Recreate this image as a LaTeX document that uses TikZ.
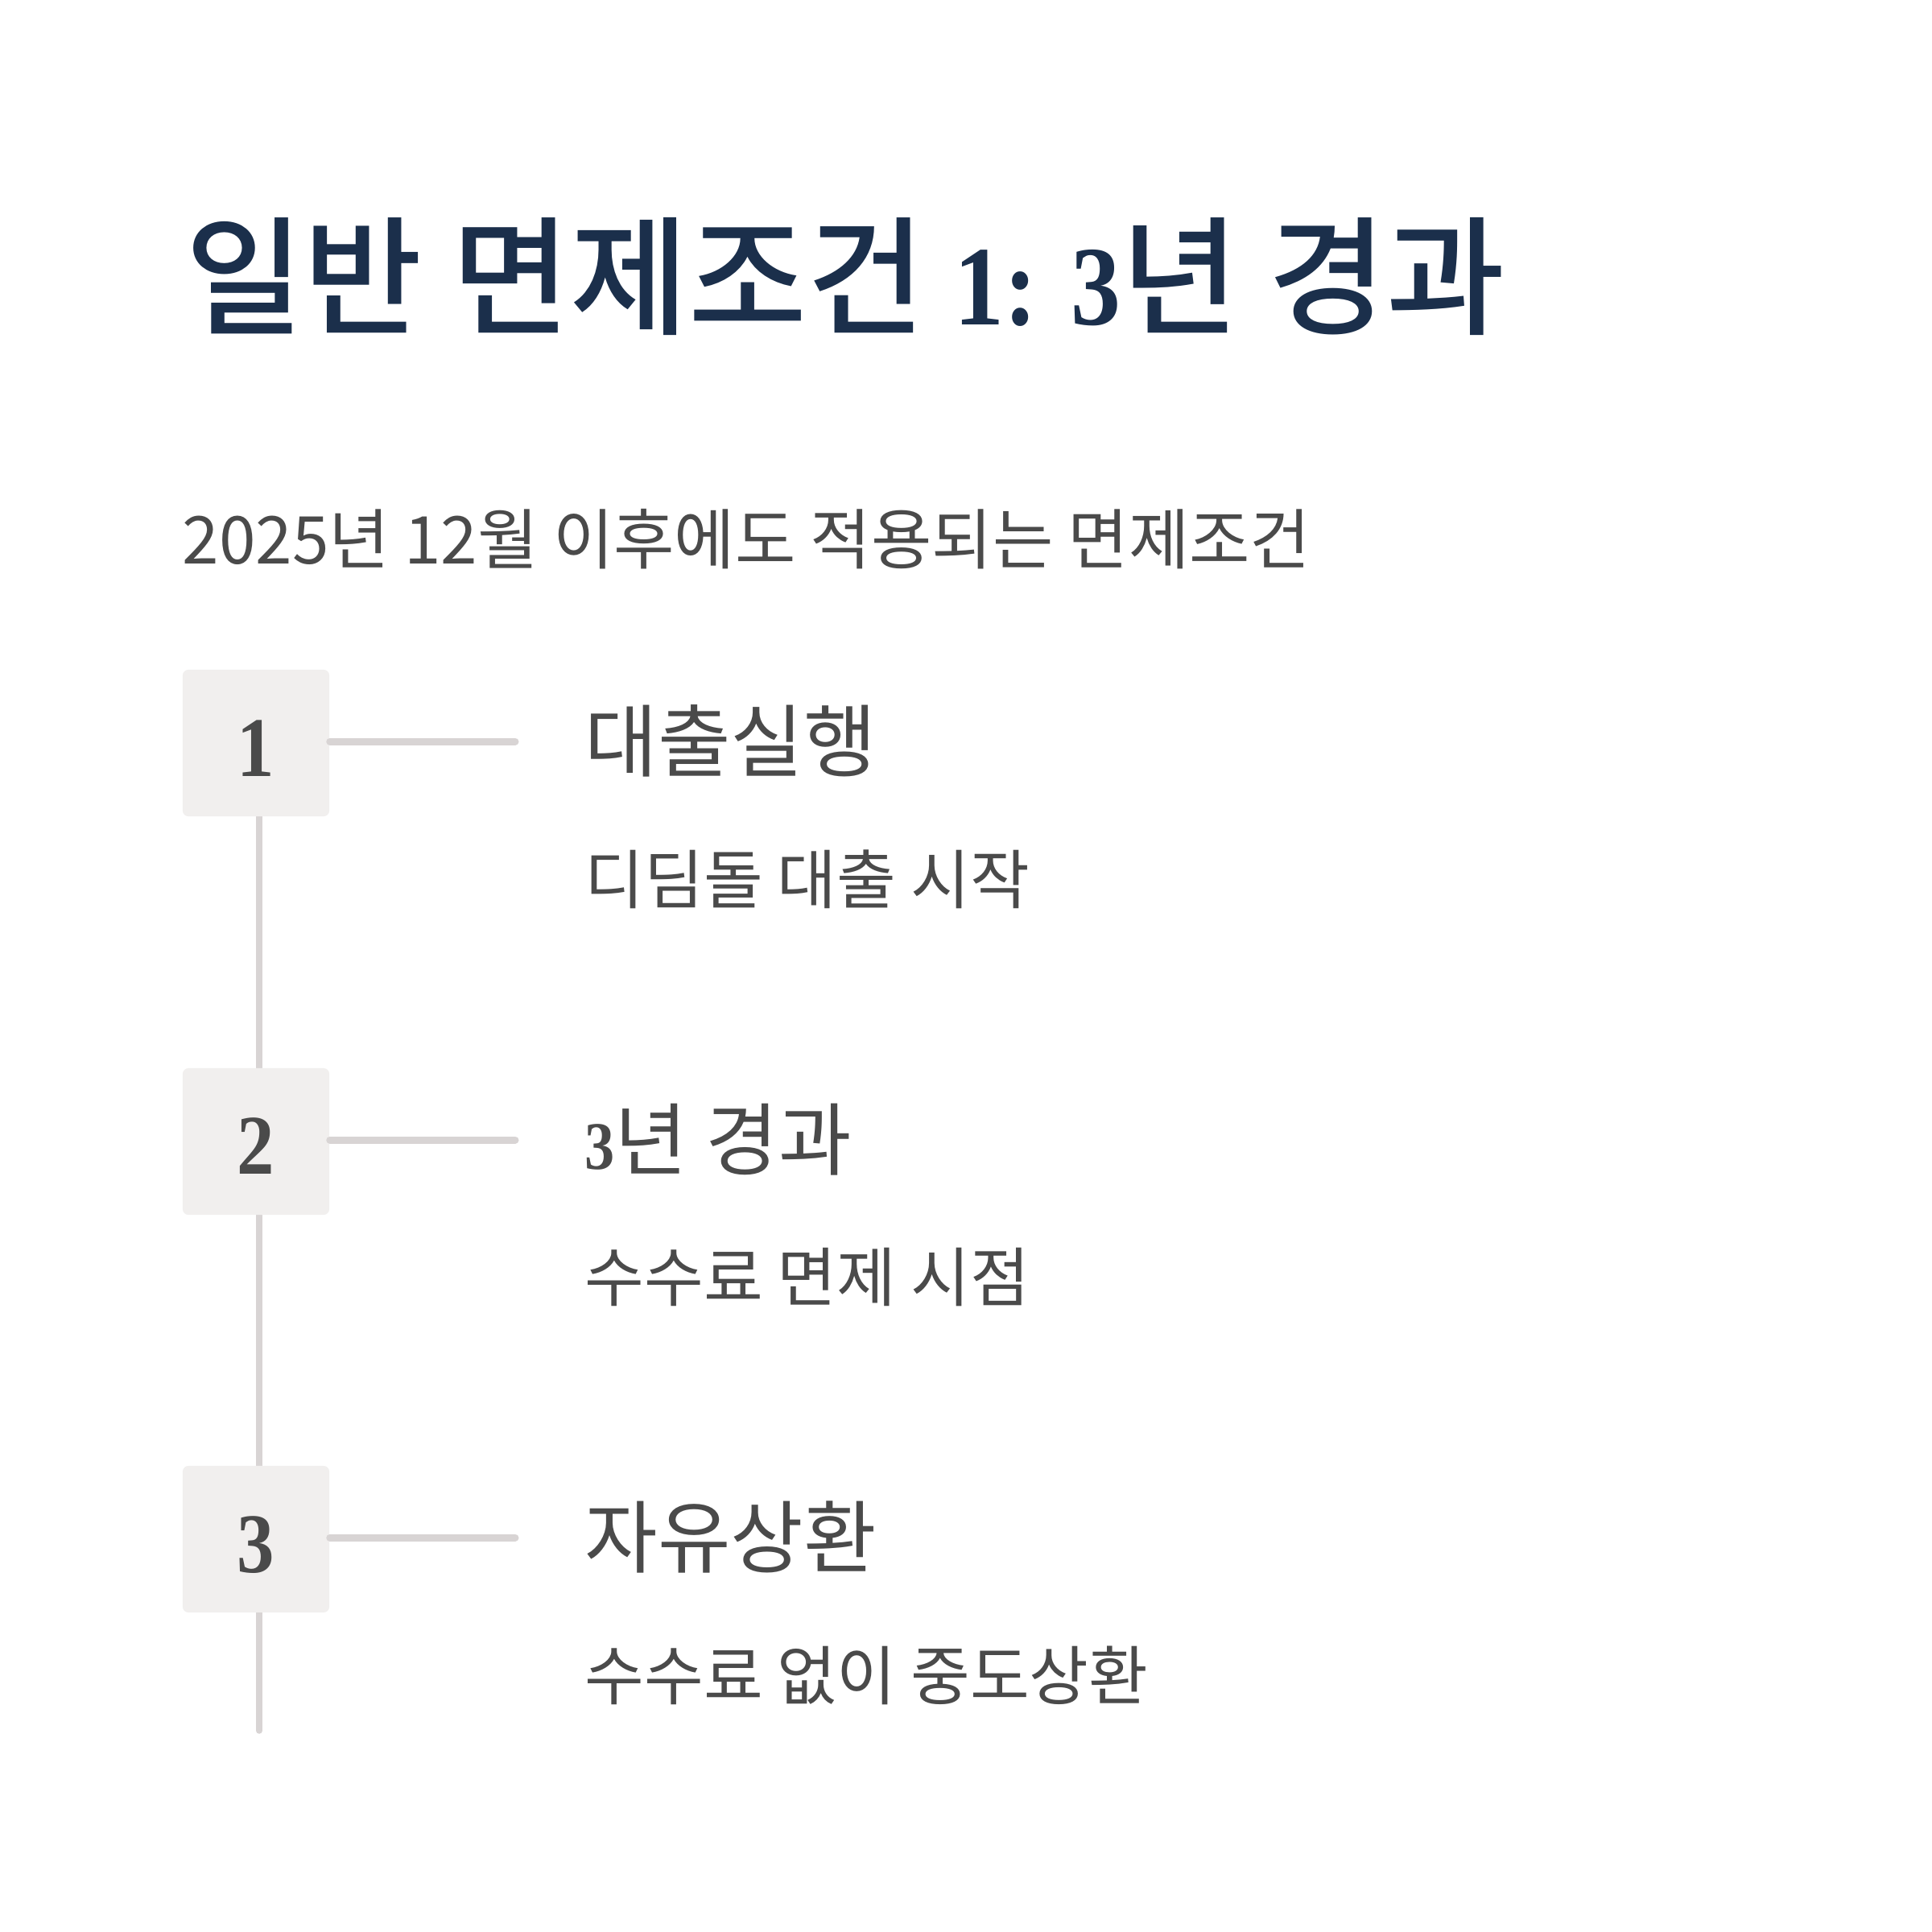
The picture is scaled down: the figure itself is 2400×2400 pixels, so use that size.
\documentclass[tikz,border=0pt]{standalone}
\usepackage{fontspec}
\setmainfont{Noto Sans CJK KR}
\newfontfamily\titlekr{Noto Sans CJK KR Medium}
\newfontfamily\numserif[FakeStretch=0.88]{Liberation Serif}
\usetikzlibrary{backgrounds}
\definecolor{navy}{HTML}{1B2F4B}
\definecolor{txtgray}{HTML}{4A4A4A}
\definecolor{boxfill}{HTML}{F1EFEE}
\definecolor{linegray}{HTML}{D8D4D4}
\tikzset{
  numbox/.style={fill=boxfill, rounded corners=0.07cm, minimum width=1.82cm, minimum height=1.82cm, inner sep=0, text=txtgray},
  boxnum/.style={font=\numserif\bfseries\fontsize{30}{34}\selectfont},
  heading/.style={anchor=base west, inner sep=0, text=txtgray, font=\fontsize{28}{32}\selectfont},
  desc/.style={anchor=base west, inner sep=0, text=txtgray, font=\fontsize{22.8}{26}\selectfont},
  vline/.style={draw=linegray, line width=0.075cm, line cap=round},
  hline/.style={draw=linegray, line width=0.09cm, line cap=round}
}
\begin{document}
\begin{tikzpicture}[x=0.01cm,y=-0.01cm]
\useasboundingbox (0,0) rectangle (2400,2400);
% title
\node[anchor=base west, inner sep=0, text=navy] (title) at (230,403)
  {\titlekr\fontsize{45.5}{50}\selectfont 일반 면제조건 {\numserif\bfseries\fontsize{40}{44}\selectfont 1: 3}년 경과};
\node[anchor=base west, inner sep=0, text=txtgray, font=\fontsize{23.3}{27}\selectfont] (sub) at (226,700)
  {2025년 12월 이후에도 적용되는 면제조건};
% boxes
\node[numbox] (b1) at (318,923) {};
\node[numbox] (b2) at (318,1418) {};
\node[numbox] (b3) at (318,1912) {};
\coordinate (vend) at (322,2150);
\begin{scope}[on background layer]
  \draw[vline] (b1.south -| vend) -- (vend);
\end{scope}
\node[boxnum, text=txtgray, anchor=base] (n1) at (318,964) {1};
\node[boxnum, text=txtgray, anchor=base] (n2) at (318,1458) {2};
\node[boxnum, text=txtgray, anchor=base] (n3) at (318,1953) {3};
% connectors
\coordinate (e1) at (640,921);
\coordinate (e2) at (640,1416);
\coordinate (e3) at (640,1910);
\draw[hline] (b1.east |- e1) -- (e1);
\draw[hline] (b2.east |- e2) -- (e2);
\draw[hline] (b3.east |- e3) -- (e3);
% headings
\node[heading] (h1) at (726,957) {대출실행};
\node[heading] (h2) at (726,1452) {{\numserif\bfseries\fontsize{24}{28}\selectfont 3}년 경과};
\node[heading] (h3) at (726,1946) {자유상환};
% descriptions
\node[desc] (d1) at (726,1122) {디딤돌 대출 시작};
\node[desc] (d2) at (726,1616) {수수료 면제 시점};
\node[desc] (d3) at (726,2111) {수수료 없이 중도상환};
\end{tikzpicture}
\end{document}
